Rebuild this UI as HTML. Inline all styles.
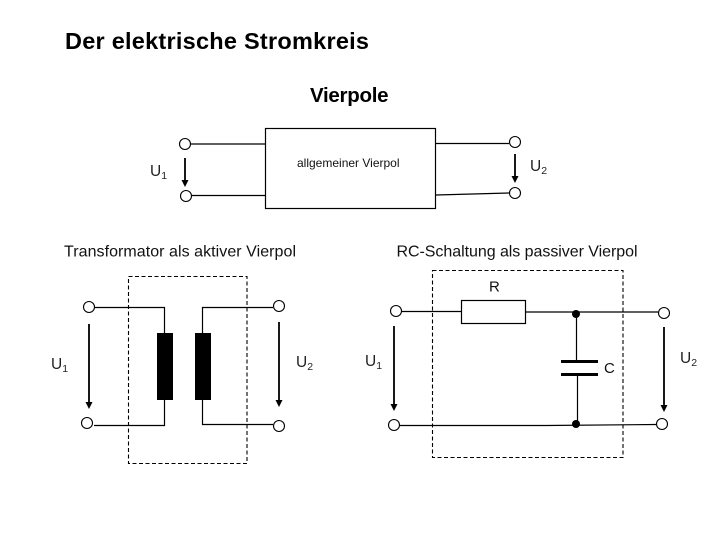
<!DOCTYPE html>
<html><head><meta charset="utf-8"><style>html,body{margin:0;padding:0;background:#fff}svg{display:block}text{font-family:"Liberation Sans",sans-serif;fill:#111}.l{stroke:#000;stroke-width:1.2;fill:none}.c{stroke:#000;stroke-width:1.1;fill:#fff}.d{stroke:#000;stroke-width:1.1;fill:none;stroke-dasharray:4 2.5}.a{stroke:#000;stroke-width:1.8;fill:none}.h{fill:#000;stroke:none}.u{font-size:15.5px;fill:#222}.s{font-size:10.5px;fill:#222}</style></head><body>
<svg width="720" height="540" viewBox="0 0 720 540" xmlns="http://www.w3.org/2000/svg">
<text x="65" y="49" font-size="23.5" font-weight="bold" textLength="304" lengthAdjust="spacing" style="fill:#000">Der elektrische Stromkreis</text>
<text x="310" y="102" font-size="20.5" font-weight="bold" textLength="78.500" lengthAdjust="spacing" style="fill:#000">Vierpole</text>
<rect x="265.5" y="128.5" width="170" height="80" class="l"/>
<text x="297" y="167" font-size="12">allgemeiner Vierpol</text>
<path class="l" d="M191 144H265M192 195.5H265M436 143.5H509M436 195L509 193"/>
<circle class="c" cx="185" cy="144" r="5.5"/><circle class="c" cx="186" cy="196" r="5.5"/><circle class="c" cx="515" cy="142" r="5.5"/><circle class="c" cx="515" cy="193" r="5.5"/>
<path class="a" d="M185 158V181M515 154V177"/>
<path class="h" d="M181.500 180H188.500L185 187ZM511.500 176H518.500L515 183Z"/>
<text class="u" x="150" y="176">U<tspan class="s" dy="3">1</tspan></text>
<text class="u" x="530" y="171">U<tspan class="s" dy="3">2</tspan></text>
<text x="64" y="256.500" font-size="16" textLength="232" lengthAdjust="spacing">Transformator als aktiver Vierpol</text>
<text x="396.500" y="256.500" font-size="16" textLength="241" lengthAdjust="spacing">RC-Schaltung als passiver Vierpol</text>
<rect x="128.500" y="276.500" width="118.500" height="187" class="d"/>
<path class="l" d="M95 307.500H164.500V333M164.500 400V425.500H94M202.500 333V307.500H273M202.500 400V424.500H273"/>
<rect x="157" y="333" width="16" height="67" fill="#000"/><rect x="195" y="333" width="16" height="67" fill="#000"/>
<circle class="c" cx="89" cy="307" r="5.500"/><circle class="c" cx="87" cy="423" r="5.500"/><circle class="c" cx="279" cy="306" r="5.500"/><circle class="c" cx="279" cy="426" r="5.500"/>
<path class="a" d="M89 324V403M279 322V401"/>
<path class="h" d="M85.500 402H92.500L89 409ZM275.500 400H282.500L279 407Z"/>
<text class="u" x="51" y="369">U<tspan class="s" dy="3">1</tspan></text>
<text class="u" x="296" y="367">U<tspan class="s" dy="3">2</tspan></text>
<text x="489" y="291.500" font-size="15">R</text>
<rect x="432.500" y="270.500" width="190.500" height="187" class="d"/>
<path class="l" d="M402 311.500H461M525 312H658M400 425.500H546L656 424.500M576.500 314V361M577.500 375V424"/>
<rect x="461.500" y="300.500" width="64" height="23" class="l" style="fill:#fff"/>
<rect x="561" y="360" width="37" height="3"  fill="#000"/><rect x="561" y="373" width="37" height="3" fill="#000"/>
<circle cx="576" cy="314" r="4" fill="#000"/><circle cx="576" cy="424" r="4" fill="#000"/>
<circle class="c" cx="396" cy="311" r="5.500"/><circle class="c" cx="394" cy="425" r="5.500"/><circle class="c" cx="664" cy="313" r="5.500"/><circle class="c" cx="662" cy="424" r="5.500"/>
<path class="a" d="M394 326V405M664 327V406"/>
<path class="h" d="M390.500 404H397.500L394 411ZM660.500 405H667.500L664 412Z"/>
<text class="u" x="365" y="366">U<tspan class="s" dy="3">1</tspan></text>
<text class="u" x="680" y="363">U<tspan class="s" dy="3">2</tspan></text>
<text x="604" y="373" font-size="15">C</text>
</svg></body></html>
